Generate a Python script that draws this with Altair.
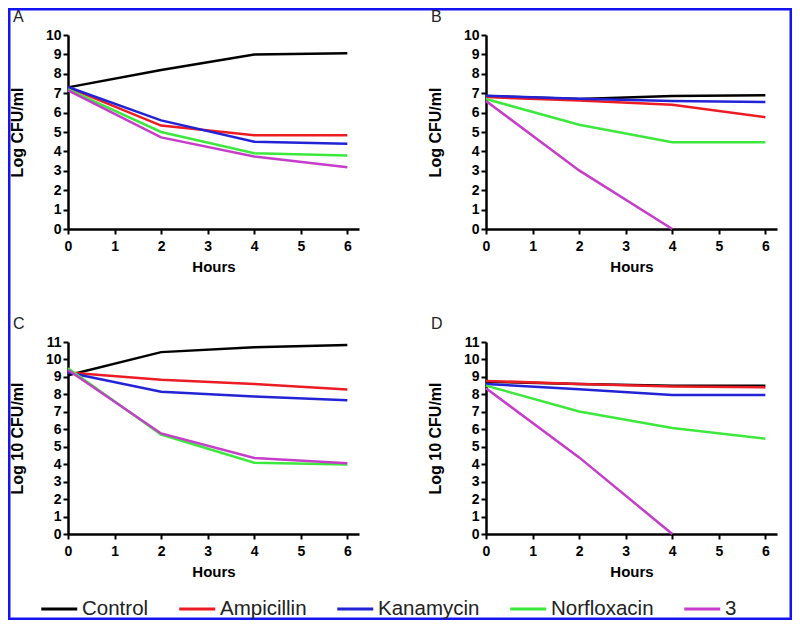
import altair as alt
import pandas as pd

hours = [0, 2, 4, 6]
treatments = ["Control", "Ampicillin", "Kanamycin", "Norfloxacin", "3"]
colors = ["#000000", "#ec1c24", "#2323d6", "#3de83d", "#c53dc8"]
panel_letters = ["A", "B", "C", "D"]

# Panel A
a_control = [7.3, 8.2, 9.0, 9.06]
a_ampicillin = [7.3, 5.33, 4.83, 4.83]
a_kanamycin = [7.32, 5.6, 4.5, 4.4]
a_norfloxacin = [7.2, 5.0, 3.9, 3.79]
a_cmpd3 = [7.15, 4.72, 3.74, 3.18]

# Panel B
b_control = [6.85, 6.7, 6.85, 6.9]
b_ampicillin = [6.8, 6.62, 6.4, 5.76]
b_kanamycin = [6.87, 6.72, 6.6, 6.55]
b_norfloxacin = [6.7, 5.37, 4.47, 4.47]
b_cmpd3 = [6.6, 3.02, 0.0]

# Panel C
c_control = [9.1, 10.42, 10.7, 10.83]
c_ampicillin = [9.25, 8.84, 8.6, 8.28]
c_kanamycin = [9.25, 8.15, 7.88, 7.66]
c_norfloxacin = [9.5, 5.7, 4.08, 3.98]
c_cmpd3 = [9.4, 5.76, 4.36, 4.06]

# Panel D
d_control = [8.72, 8.6, 8.5, 8.49]
d_ampicillin = [8.77, 8.6, 8.45, 8.4]
d_kanamycin = [8.6, 8.3, 7.97, 7.96]
d_norfloxacin = [8.5, 7.02, 6.07, 5.46]
d_cmpd3 = [8.35, 4.39, 0.0]

FONT = "Liberation Sans"

legend = alt.Legend(
    orient="none", legendX=-11, legendY=563.5, direction="horizontal", columns=5,
    symbolType="M-4.333,0H1.667", symbolSize=144, symbolStrokeWidth=3,
    labelFont=FONT, labelFontSize=20.5, labelColor="#222222", labelOffset=4.5,
    columnPadding=24, padding=0,
)


def build_df(series):
    rows = []
    for name, vals in zip(treatments, series):
        for h, v in zip(hours, vals):
            rows.append({"Hours": h, "CFU": v, "Treatment": name})
    return pd.DataFrame(rows)


def panel(series, letter, ymax, ytitle, height, frame=False):
    df = build_df(series)
    lines = alt.Chart(df).mark_line(strokeWidth=2.5, clip=False).encode(
        x=alt.X("Hours:Q", scale=alt.Scale(domain=[0, 6.25], nice=False, zero=False),
                axis=alt.Axis(values=list(range(7)), title="Hours")),
        y=alt.Y("CFU:Q", scale=alt.Scale(domain=[0, ymax], nice=False),
                axis=alt.Axis(values=list(range(ymax + 1)), title=ytitle)),
        color=alt.Color("Treatment:N", scale=alt.Scale(domain=treatments, range=colors),
                        legend=legend, title=None),
    )
    tag = alt.Chart(pd.DataFrame({"t": [letter]})).mark_text(
        align="left", baseline="alphabetic", fontSize=16, font=FONT, color="#222222"
    ).encode(x=alt.value(-55), y=alt.value(-13.5), text="t:N")
    layers = [lines, tag]
    if frame:
        box = alt.Chart(pd.DataFrame({"f": [0]})).mark_rect(
            filled=False, stroke="#1414f0", strokeWidth=2.5
        ).encode(
            x=alt.value(-58.75), x2=alt.value(722.75),
            y=alt.value(-25.75), y2=alt.value(583.75),
        )
        layers.append(box)
    return alt.layer(*layers).properties(width=291, height=height)


pA = panel([a_control, a_ampicillin, a_kanamycin, a_norfloxacin, a_cmpd3], panel_letters[0], 10, "Log CFU/ml", 194, frame=True)
pB = panel([b_control, b_ampicillin, b_kanamycin, b_norfloxacin, b_cmpd3], panel_letters[1], 10, "Log CFU/ml", 194)
pC = panel([c_control, c_ampicillin, c_kanamycin, c_norfloxacin, c_cmpd3], panel_letters[2], 11, "Log 10 CFU/ml", 192)
pD = panel([d_control, d_ampicillin, d_kanamycin, d_norfloxacin, d_cmpd3], panel_letters[3], 11, "Log 10 CFU/ml", 192)

chart = alt.concat(pA, pB, pC, pD, columns=2, spacing={"row": 113, "column": 127}, bounds="flush").properties(
    padding=0, background="white"
).configure_view(stroke=None).configure_axis(
    grid=False, domainColor="black", domainWidth=2.5, tickColor="black", tickWidth=2, tickSize=5,
    labelFont=FONT, labelFontWeight="bold", labelFontSize=14, labelColor="black", labelFlush=False,
    titleFont=FONT, titleFontWeight="bold", titleColor="black",
).configure_axisX(
    labelPadding=5, titlePadding=6, titleFontSize=15,
).configure_axisY(
    labelPadding=2, titlePadding=20, titleFontSize=16,
)

chart.save("out.html", embed_options={"renderer": "svg", "actions": False})
